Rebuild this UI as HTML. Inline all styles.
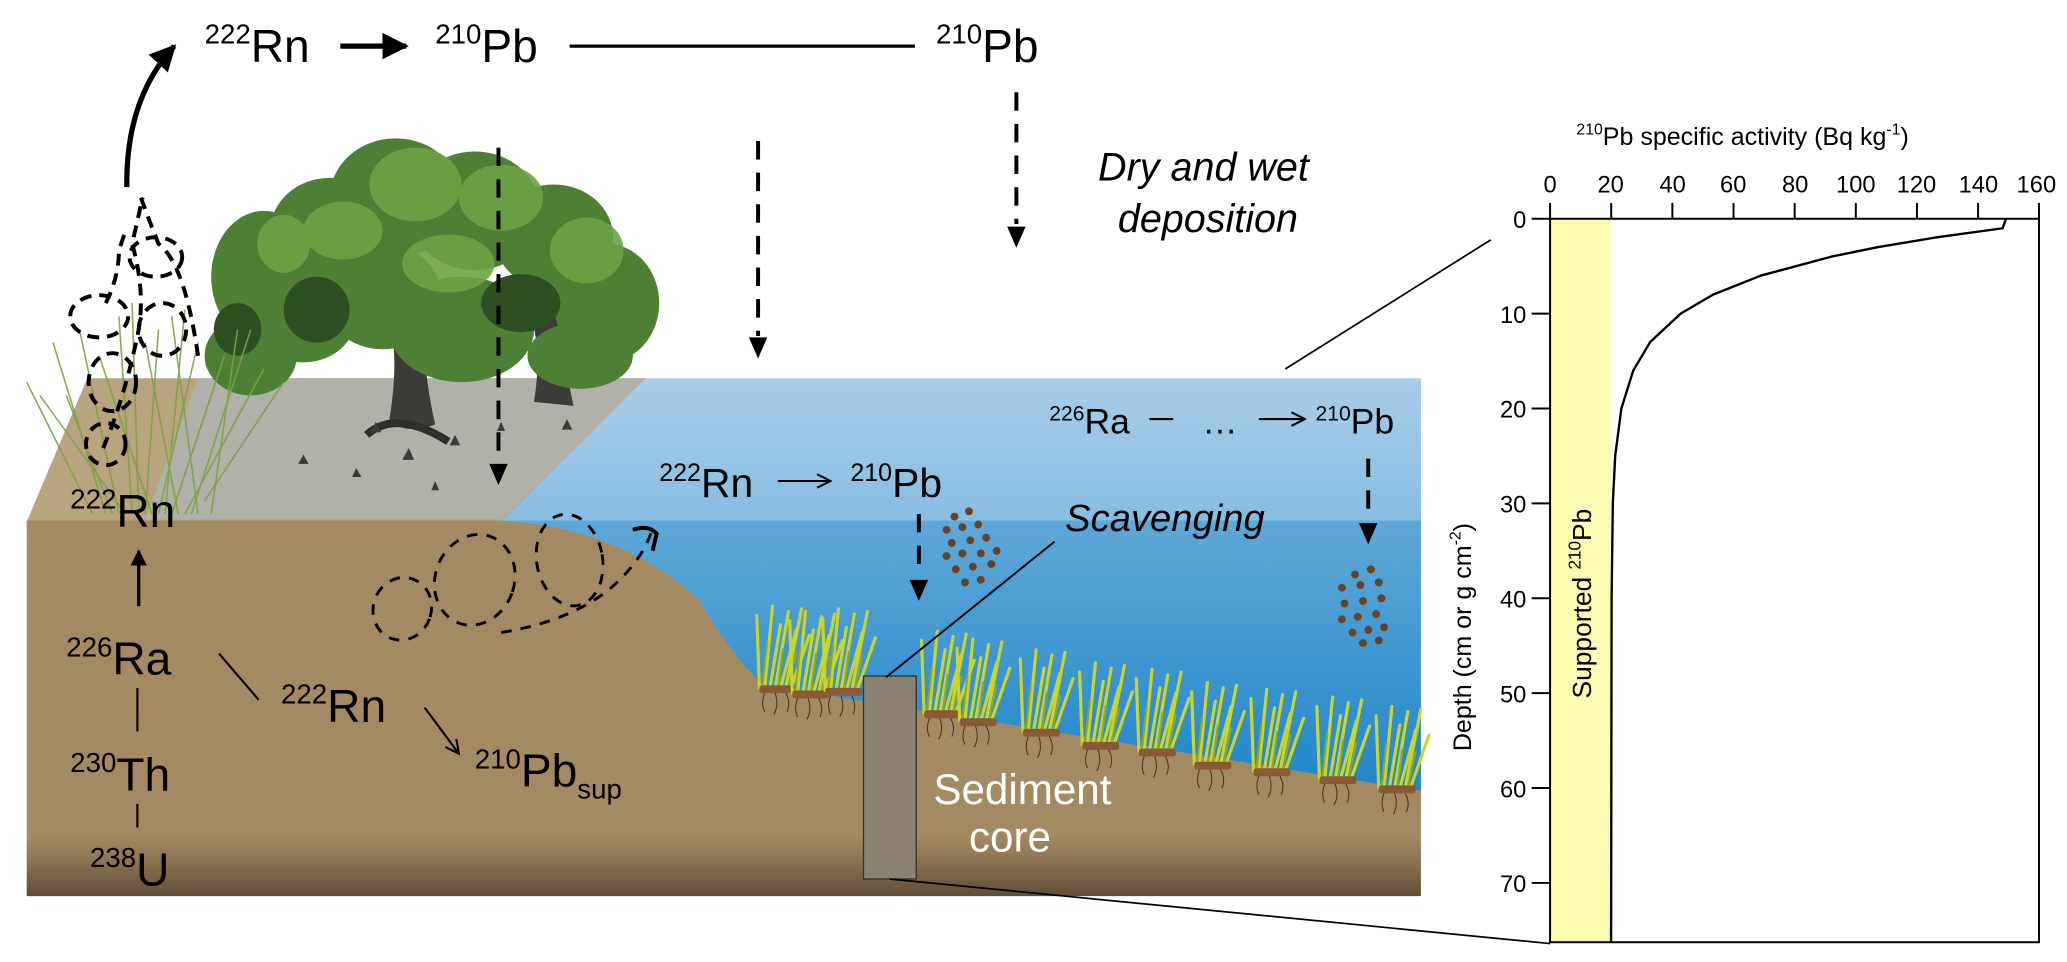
<!DOCTYPE html>
<html><head><meta charset="utf-8"><style>
html,body{margin:0;padding:0;background:#fff;}
svg{display:block}
text{font-family:"Liberation Sans Narrow","Liberation Sans",sans-serif;fill:#000}
</style></head><body>
<svg width="2067" height="962" viewBox="0 0 1568 730" xmlns="http://www.w3.org/2000/svg">
<defs>
<linearGradient id="soil" x1="0" y1="0" x2="0" y2="1">
<stop offset="0" stop-color="#a48a62"/><stop offset="0.84" stop-color="#a48a62"/><stop offset="0.9" stop-color="#8f7654"/><stop offset="1" stop-color="#5e4e39"/></linearGradient>
<linearGradient id="water" x1="0" y1="0" x2="0" y2="1">
<stop offset="0" stop-color="#5fa8d8"/><stop offset="1" stop-color="#1f86c8"/></linearGradient>
<linearGradient id="wtop" x1="0" y1="0" x2="0" y2="1">
<stop offset="0" stop-color="#a9cce9"/><stop offset="1" stop-color="#86bde2"/></linearGradient>
<marker id="ah" viewBox="0 0 10 10" refX="9" refY="5" markerWidth="5" markerHeight="5" orient="auto"><path d="M0,0L10,5L0,10z" fill="#000"/></marker>
<marker id="oa" viewBox="0 0 10 10" refX="9" refY="5" markerWidth="8" markerHeight="8" orient="auto"><path d="M1,1L9,5L1,9" fill="none" stroke="#000" stroke-width="1.2"/></marker>
<g id="clump">
<g stroke="#c9d42c" stroke-width="2.4" fill="none" stroke-linecap="round">
<path d="M-14,0 L-16,-55"/><path d="M-10,0 L-4,-62"/><path d="M-6,0 L2,-48"/><path d="M-2,0 L8,-58"/><path d="M2,0 L14,-44"/><path d="M6,0 L18,-60"/><path d="M10,0 L24,-40"/>
</g>
<g stroke="#8fa634" stroke-width="1.6" fill="none">
<path d="M-12,0 L-8,-35"/><path d="M0,0 L4,-30"/><path d="M8,0 L14,-28"/>
</g>
<rect x="-14" y="-2" width="28" height="6" rx="2" fill="#8a5a36"/>
<g stroke="#4a3422" stroke-width="0.8" fill="none"><path d="M-10,4 q-3,8 0,14"/><path d="M-2,4 q3,9 -1,16"/><path d="M6,4 q4,7 1,14"/></g>
</g>
</defs>

<!-- land top face -->
<polygon points="20,396 66,287 490,287 380,396" fill="#b8a47e"/>
<polygon points="150,287 490,287 380,394 110,394" fill="#b1b1a9"/>
<!-- water top -->
<polygon points="378,397 490,287 1078,287 1078,397" fill="url(#wtop)"/>
<!-- water front -->
<rect x="380" y="395" width="698" height="207" fill="url(#water)"/>
<!-- soil front -->
<path d="M20,395 L380,395 Q470,400 530,455 Q560,505 580,520 L1078,600 L1078,680 L20,680 Z" fill="url(#soil)"/>

<!-- trees -->
<g>
<path d="M295,320 Q305,260 290,230 L320,225 Q320,280 330,322 Q310,330 295,320Z" fill="#3b3b37"/>
<path d="M278,330 Q300,310 340,335" stroke="#2e2e2b" stroke-width="6" fill="none"/>
<path d="M405,305 Q412,260 400,235 L428,232 Q426,270 435,308Z" fill="#3b3b37"/>
<g fill="#4d7f34">
<ellipse cx="200" cy="210" rx="40" ry="50"/><ellipse cx="190" cy="270" rx="35" ry="30"/>
<ellipse cx="250" cy="175" rx="45" ry="40"/><ellipse cx="300" cy="150" rx="50" ry="45"/>
<ellipse cx="360" cy="160" rx="50" ry="45"/><ellipse cx="420" cy="180" rx="45" ry="40"/>
<ellipse cx="460" cy="230" rx="40" ry="45"/><ellipse cx="230" cy="240" rx="40" ry="35"/>
<ellipse cx="350" cy="250" rx="55" ry="40"/><ellipse cx="290" cy="225" rx="45" ry="40"/>
<ellipse cx="440" cy="270" rx="40" ry="25"/>
</g>
<g fill="#6ea244" opacity="0.9">
<ellipse cx="315" cy="140" rx="35" ry="28"/><ellipse cx="380" cy="150" rx="32" ry="25"/><ellipse cx="445" cy="190" rx="28" ry="25"/>
<ellipse cx="340" cy="200" rx="35" ry="22"/><ellipse cx="260" cy="175" rx="30" ry="22"/><ellipse cx="215" cy="185" rx="20" ry="22"/>
</g>
<g fill="#2d4f22"><ellipse cx="240" cy="235" rx="25" ry="25"/><ellipse cx="395" cy="230" rx="30" ry="22"/><ellipse cx="180" cy="250" rx="18" ry="20"/></g>
<g fill="#3b3b37"><path d="M285,320 l-4,8 l8,0z M310,340 l-5,9 l9,0z M345,330 l-4,8 l8,0z M230,345 l-4,7 l8,0z M270,355 l-3,7 l7,0z M380,320 l-3,7 l6,0z M430,318 l-4,8 l8,0z M330,365 l-3,7 l6,0z"/></g>
</g>
<!-- marsh grass -->
<g stroke="#7ea245" stroke-width="1.2" fill="none" opacity="0.9">
<path d="M70,390 L20,290"/><path d="M80,390 L40,260"/><path d="M90,390 L60,250"/><path d="M100,390 L90,240"/><path d="M110,390 L120,250"/><path d="M120,390 L150,260"/><path d="M130,390 L170,270"/><path d="M140,390 L200,280"/><path d="M150,390 L130,240"/><path d="M160,390 L180,250"/><path d="M95,390 L30,300"/><path d="M115,390 L75,270"/><path d="M135,390 L110,260"/><path d="M145,390 L190,250"/><path d="M155,380 L215,290"/><path d="M85,390 L50,300"/><path d="M125,390 L140,235"/><path d="M105,390 L100,230"/>
</g>

<!-- seagrass -->
<use href="#clump" x="590" y="522"/><use href="#clump" x="615" y="526"/><use href="#clump" x="640" y="524"/>
<use href="#clump" x="715" y="541"/><use href="#clump" x="742" y="547"/><use href="#clump" x="790" y="555"/>
<use href="#clump" x="835" y="565"/><use href="#clump" x="878" y="570"/><use href="#clump" x="920" y="580"/>
<use href="#clump" x="965" y="585"/><use href="#clump" x="1015" y="591"/><use href="#clump" x="1060" y="598"/>

<!-- sediment core -->
<rect x="655" y="513" width="40" height="154" fill="#8b8274" stroke="#333" stroke-width="1"/>

<!-- particles -->
<g fill="#6a4326">
<circle cx="724" cy="392" r="3"/><circle cx="735" cy="388" r="3"/><circle cx="718" cy="402" r="3"/><circle cx="730" cy="400" r="3"/><circle cx="742" cy="398" r="3"/><circle cx="722" cy="412" r="3"/><circle cx="736" cy="410" r="3"/><circle cx="748" cy="408" r="3"/><circle cx="718" cy="422" r="3"/><circle cx="730" cy="420" r="3"/><circle cx="744" cy="420" r="3"/><circle cx="725" cy="432" r="3"/><circle cx="738" cy="430" r="3"/><circle cx="752" cy="428" r="3"/><circle cx="732" cy="442" r="3"/><circle cx="744" cy="440" r="3"/><circle cx="756" cy="418" r="3"/>
<circle cx="1028" cy="436" r="3"/><circle cx="1040" cy="432" r="3"/><circle cx="1018" cy="446" r="3"/><circle cx="1032" cy="444" r="3"/><circle cx="1046" cy="442" r="3"/><circle cx="1020" cy="458" r="3"/><circle cx="1034" cy="456" r="3"/><circle cx="1048" cy="454" r="3"/><circle cx="1018" cy="470" r="3"/><circle cx="1030" cy="468" r="3"/><circle cx="1044" cy="466" r="3"/><circle cx="1026" cy="480" r="3"/><circle cx="1038" cy="478" r="3"/><circle cx="1050" cy="476" r="3"/><circle cx="1034" cy="488" r="3"/><circle cx="1046" cy="486" r="3"/>
</g>

<!-- dashed loops -->
<g fill="none" stroke="#000" stroke-width="3" stroke-dasharray="9,6">
<ellipse cx="118" cy="195" rx="20" ry="15"/><ellipse cx="75" cy="240" rx="22" ry="16"/><ellipse cx="123" cy="250" rx="18" ry="20"/><ellipse cx="85" cy="290" rx="18" ry="22"/><ellipse cx="80" cy="337" rx="15" ry="16"/>
<path d="M78,340 Q95,300 105,250 Q110,220 100,185 L108,150"/><path d="M150,270 Q140,200 120,185 Q110,160 105,145"/>
<path d="M80,230 Q90,210 90,190 L95,175"/>
</g>
<g fill="none" stroke="#000" stroke-width="2.2" stroke-dasharray="8,7">
<ellipse cx="305" cy="462" rx="22" ry="24" transform="rotate(20 305 462)"/><ellipse cx="360" cy="440" rx="30" ry="35" transform="rotate(20 360 440)"/><ellipse cx="432" cy="425" rx="25" ry="35" transform="rotate(-10 432 425)"/>
<path d="M380,480 Q440,470 470,440 Q490,420 495,400"/>
</g>
<path d="M480,402 Q492,398 498,405 L495,418" fill="none" stroke="#000" stroke-width="3"/>

<!-- top labels -->
<text x="155" y="47" font-size="35"><tspan font-size="21" dy="-14">222</tspan><tspan dy="14">Rn</tspan></text>
<line x1="258" y1="35" x2="308" y2="35" stroke="#000" stroke-width="4" marker-end="url(#ah)"/>
<text x="330" y="47" font-size="35"><tspan font-size="21" dy="-14">210</tspan><tspan dy="14">Pb</tspan></text>
<line x1="432" y1="35" x2="694" y2="35" stroke="#000" stroke-width="2.5"/>
<text x="710" y="47" font-size="35"><tspan font-size="21" dy="-14">210</tspan><tspan dy="14">Pb</tspan></text>
<path d="M96,142 Q95,75 132,35" fill="none" stroke="#000" stroke-width="4" marker-end="url(#ah)"/>

<g stroke="#000" stroke-width="3" stroke-dasharray="14,10" fill="none">
<line x1="378" y1="112" x2="378" y2="350"/><line x1="575" y1="107" x2="575" y2="255"/><line x1="771" y1="70" x2="771" y2="170"/>
<line x1="697" y1="390" x2="697" y2="435"/><line x1="1038" y1="348" x2="1038" y2="395"/>
</g>
<g fill="#000"><path d="M371,352 l14,0 l-7,16z"/><path d="M568,256 l14,0 l-7,16z"/><path d="M764,172 l14,0 l-7,16z"/><path d="M690,440 l14,0 l-7,16z"/><path d="M1031,397 l14,0 l-7,16z"/></g>

<text x="833" y="137" font-size="30" font-style="italic" font-family="Liberation Sans">Dry and wet</text>
<text x="848" y="176" font-size="30" font-style="italic" font-family="Liberation Sans">deposition</text>

<!-- water labels -->
<text x="500" y="377" font-size="31"><tspan font-size="19" dy="-12">222</tspan><tspan dy="12">Rn</tspan></text>
<line x1="590" y1="365" x2="630" y2="365" stroke="#000" stroke-width="1.6" marker-end="url(#oa)"/>
<text x="645" y="377" font-size="31"><tspan font-size="19" dy="-12">210</tspan><tspan dy="12">Pb</tspan></text>
<text x="796" y="329" font-size="27"><tspan font-size="16" dy="-10">226</tspan><tspan dy="10">Ra</tspan></text>
<line x1="872" y1="318" x2="890" y2="318" stroke="#000" stroke-width="1.6"/>
<text x="912" y="329" font-size="27">…</text>
<line x1="955" y1="318" x2="990" y2="318" stroke="#000" stroke-width="1.6" marker-end="url(#oa)"/>
<text x="998" y="329" font-size="27"><tspan font-size="16" dy="-10">210</tspan><tspan dy="10">Pb</tspan></text>
<text x="808" y="403" font-size="29" font-style="italic" font-family="Liberation Sans">Scavenging</text>
<line x1="800" y1="411" x2="672" y2="514" stroke="#000" stroke-width="1.5"/>
<text x="708" y="610" font-size="32" style="fill:#fff">Sediment</text>
<text x="735" y="646" font-size="32" style="fill:#fff">core</text>

<!-- soil labels -->
<text x="53" y="400" font-size="35"><tspan font-size="21" dy="-14">222</tspan><tspan dy="14">Rn</tspan></text>
<line x1="105" y1="460" x2="105" y2="418" stroke="#000" stroke-width="2.5" marker-end="url(#ah)"/>
<text x="50" y="512" font-size="35"><tspan font-size="21" dy="-14">226</tspan><tspan dy="14">Ra</tspan></text>
<line x1="104" y1="522" x2="104" y2="555" stroke="#000" stroke-width="1.6"/>
<text x="53" y="600" font-size="35"><tspan font-size="21" dy="-14">230</tspan><tspan dy="14">Th</tspan></text>
<line x1="104" y1="610" x2="104" y2="628" stroke="#000" stroke-width="1.6"/>
<text x="68" y="672" font-size="35"><tspan font-size="21" dy="-14">238</tspan><tspan dy="14">U</tspan></text>
<line x1="166" y1="496" x2="196" y2="531" stroke="#000" stroke-width="1.6"/>
<text x="213" y="548" font-size="35"><tspan font-size="21" dy="-14">222</tspan><tspan dy="14">Rn</tspan></text>
<line x1="322" y1="537" x2="348" y2="572" stroke="#000" stroke-width="1.6" marker-end="url(#oa)"/>
<text x="360" y="597" font-size="35"><tspan font-size="21" dy="-14">210</tspan><tspan dy="14">Pb</tspan><tspan font-size="21" dy="9">sup</tspan></text>

<!-- connector lines -->
<line x1="975" y1="280" x2="1131" y2="182" stroke="#000" stroke-width="1.3"/>
<line x1="675" y1="667" x2="1176" y2="716" stroke="#000" stroke-width="1.3"/>

<!-- chart -->
<rect x="1176" y="166" width="46" height="549" fill="#fafab0"/>
<rect x="1176" y="166" width="371" height="549" fill="none" stroke="#000" stroke-width="1.5"/>
<g stroke="#000" stroke-width="1.5">
<line x1="1176" y1="154" x2="1176" y2="166"/><line x1="1222.4" y1="154" x2="1222.4" y2="166"/><line x1="1268.8" y1="154" x2="1268.8" y2="166"/><line x1="1315.2" y1="154" x2="1315.2" y2="166"/><line x1="1361.6" y1="154" x2="1361.6" y2="166"/><line x1="1408" y1="154" x2="1408" y2="166"/><line x1="1454.4" y1="154" x2="1454.4" y2="166"/><line x1="1500.8" y1="154" x2="1500.8" y2="166"/><line x1="1547" y1="154" x2="1547" y2="166"/>
<line x1="1162" y1="166" x2="1176" y2="166"/><line x1="1162" y1="238" x2="1176" y2="238"/><line x1="1162" y1="310" x2="1176" y2="310"/><line x1="1162" y1="382" x2="1176" y2="382"/><line x1="1162" y1="454" x2="1176" y2="454"/><line x1="1162" y1="526" x2="1176" y2="526"/><line x1="1162" y1="598" x2="1176" y2="598"/><line x1="1162" y1="670" x2="1176" y2="670"/>
</g>
<g font-size="18" font-family="Liberation Sans" text-anchor="middle">
<text x="1176" y="146">0</text><text x="1222" y="146">20</text><text x="1269" y="146">40</text><text x="1315" y="146">60</text><text x="1362" y="146">80</text><text x="1408" y="146">100</text><text x="1454" y="146">120</text><text x="1501" y="146">140</text><text x="1545" y="146">160</text>
</g>
<g font-size="18" font-family="Liberation Sans" text-anchor="end">
<text x="1158" y="173">0</text><text x="1158" y="245">10</text><text x="1158" y="317">20</text><text x="1158" y="389">30</text><text x="1158" y="461">40</text><text x="1158" y="533">50</text><text x="1158" y="605">60</text><text x="1158" y="677">70</text>
</g>
<text x="1196" y="110" font-size="19" font-family="Liberation Sans"><tspan font-size="12" dy="-8">210</tspan><tspan dy="8">Pb specific activity (Bq kg</tspan><tspan font-size="12" dy="-8">-1</tspan><tspan dy="8">)</tspan></text>
<text transform="translate(1116,570) rotate(-90)" font-size="19" font-family="Liberation Sans"><tspan>Depth (cm or g cm</tspan><tspan font-size="12" dy="-8">-2</tspan><tspan dy="8">)</tspan></text>
<text transform="translate(1207,530) rotate(-90)" font-size="20" font-family="Liberation Sans"><tspan>Supported </tspan><tspan font-size="13" dy="-8">210</tspan><tspan dy="8">Pb</tspan></text>
<path d="M1522,166 L1519.4,173.2 L1467.4,180.4 L1424.5,187.6 L1389.2,194.8 L1335.8,209.2 L1299.7,223.6 L1275.1,238 L1251.9,259.6 L1239.1,281.2 L1230.1,310 L1225.4,346 L1223.6,382 L1222.7,454 L1222.3,715" fill="none" stroke="#000" stroke-width="1.8" stroke-linejoin="round"/>
</svg>
</body></html>
